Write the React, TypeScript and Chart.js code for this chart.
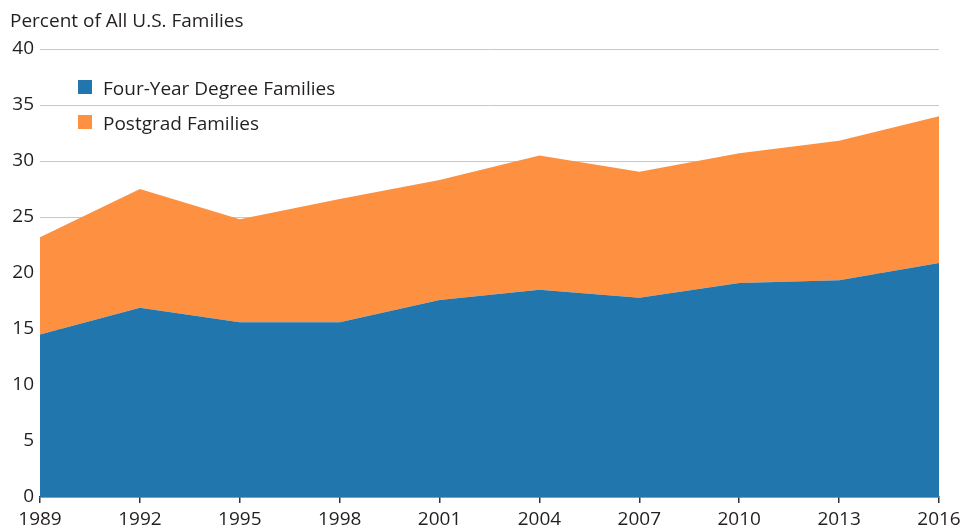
import React, { useEffect, useRef } from "react";
import { Chart, registerables } from "chart.js";

Chart.register(...registerables);

const years = ["1989", "1992", "1995", "1998", "2001", "2004", "2007", "2010", "2013", "2016"];
const fourYearDegree = [14.5, 16.9, 15.6, 15.6, 17.6, 18.5, 17.8, 19.1, 19.35, 20.9];
const postgrad = [8.7, 10.6, 9.2, 11.0, 10.7, 12.0, 11.25, 11.6, 12.45, 13.1];
const yTicks = [0, 5, 10, 15, 20, 25, 30, 35, 40];
const seriesNames = ["Four-Year Degree Families", "Postgrad Families"];
const axisTitle = "Percent of All U.S. Families";

const BLUE = "#2177ad";
const ORANGE = "#fd9141";
const TEXT = "#231f20";
const FONT = "'Open Sans', 'Noto Sans', sans-serif";

const overlayPlugin = {
  id: "overlay",
  afterDraw(chart: any) {
    const ctx = chart.ctx;
    ctx.save();
    ctx.fillStyle = TEXT;
    ctx.font = `19px ${FONT}`;
    ctx.textAlign = "left";
    ctx.textBaseline = "alphabetic";
    ctx.fillText(axisTitle, 10, 27);
    const ds = chart.data.datasets;
    const baselines = [95, 130];
    ds.forEach((d: any, i: number) => {
      const b = baselines[i];
      ctx.fillStyle = d.backgroundColor;
      ctx.fillRect(78, b - 15, 14, 14);
      ctx.fillStyle = TEXT;
      ctx.fillText(d.label, 103, b);
    });
    ctx.restore();
  },
};

export default function App() {
  const ref = useRef<HTMLCanvasElement>(null);
  useEffect(() => {
    const chart = new Chart(ref.current!, {
      type: "line",
      data: {
        labels: years,
        datasets: [
          {
            label: seriesNames[0],
            data: fourYearDegree,
            backgroundColor: BLUE,
            borderColor: BLUE,
            borderWidth: 0,
            pointRadius: 0,
            fill: "origin",
            tension: 0,
          },
          {
            label: seriesNames[1],
            data: postgrad,
            backgroundColor: ORANGE,
            borderColor: ORANGE,
            borderWidth: 0,
            pointRadius: 0,
            fill: "-1",
            tension: 0,
          },
        ],
      },
      options: {
        animation: false,
        responsive: false,
        maintainAspectRatio: false,
        layout: { padding: { top: 49, right: 23, left: 0, bottom: 0 } },
        plugins: {
          legend: { display: false },
          title: { display: false },
          tooltip: { enabled: false },
        },
        scales: {
          x: {
            type: "category",
            offset: false,
            grid: {
              drawOnChartArea: false,
              drawTicks: true,
              tickLength: 6,
              color: "#333333",
              lineWidth: 1.5,
            },
            border: { display: true, color: "#333333", width: 1.5 },
            ticks: {
              color: TEXT,
              font: { family: FONT, size: 19 },
              padding: 5,
              maxRotation: 0,
              autoSkip: false,
            },
            afterFit(scale: any) {
              scale.height = 34;
              scale.paddingLeft = 0;
              scale.paddingRight = 0;
            },
          },
          y: {
            stacked: true,
            min: 0,
            max: 40,
            afterBuildTicks(scale: any) {
              scale.ticks = yTicks.map((v) => ({ value: v }));
            },
            grid: {
              color: (c: any) => (c.tick && c.tick.value === 0 ? "rgba(0,0,0,0)" : "#c8c8c8"),
              lineWidth: 1,
              drawTicks: false,
            },
            border: { display: false },
            ticks: {
              color: TEXT,
              font: { family: FONT, size: 19 },
              padding: 6,
            },
            afterFit(scale: any) {
              scale.width = 40;
              scale.paddingTop = 0;
              scale.paddingBottom = 0;
            },
          },
        },
      },
      plugins: [overlayPlugin],
    });
    return () => chart.destroy();
  }, []);
  return (
    <div style={{ position: "fixed", left: 0, top: 0, width: 962, height: 531, background: "#fff" }}>
      <canvas ref={ref} width={962} height={531} style={{ display: "block" }} />
    </div>
  );
}
